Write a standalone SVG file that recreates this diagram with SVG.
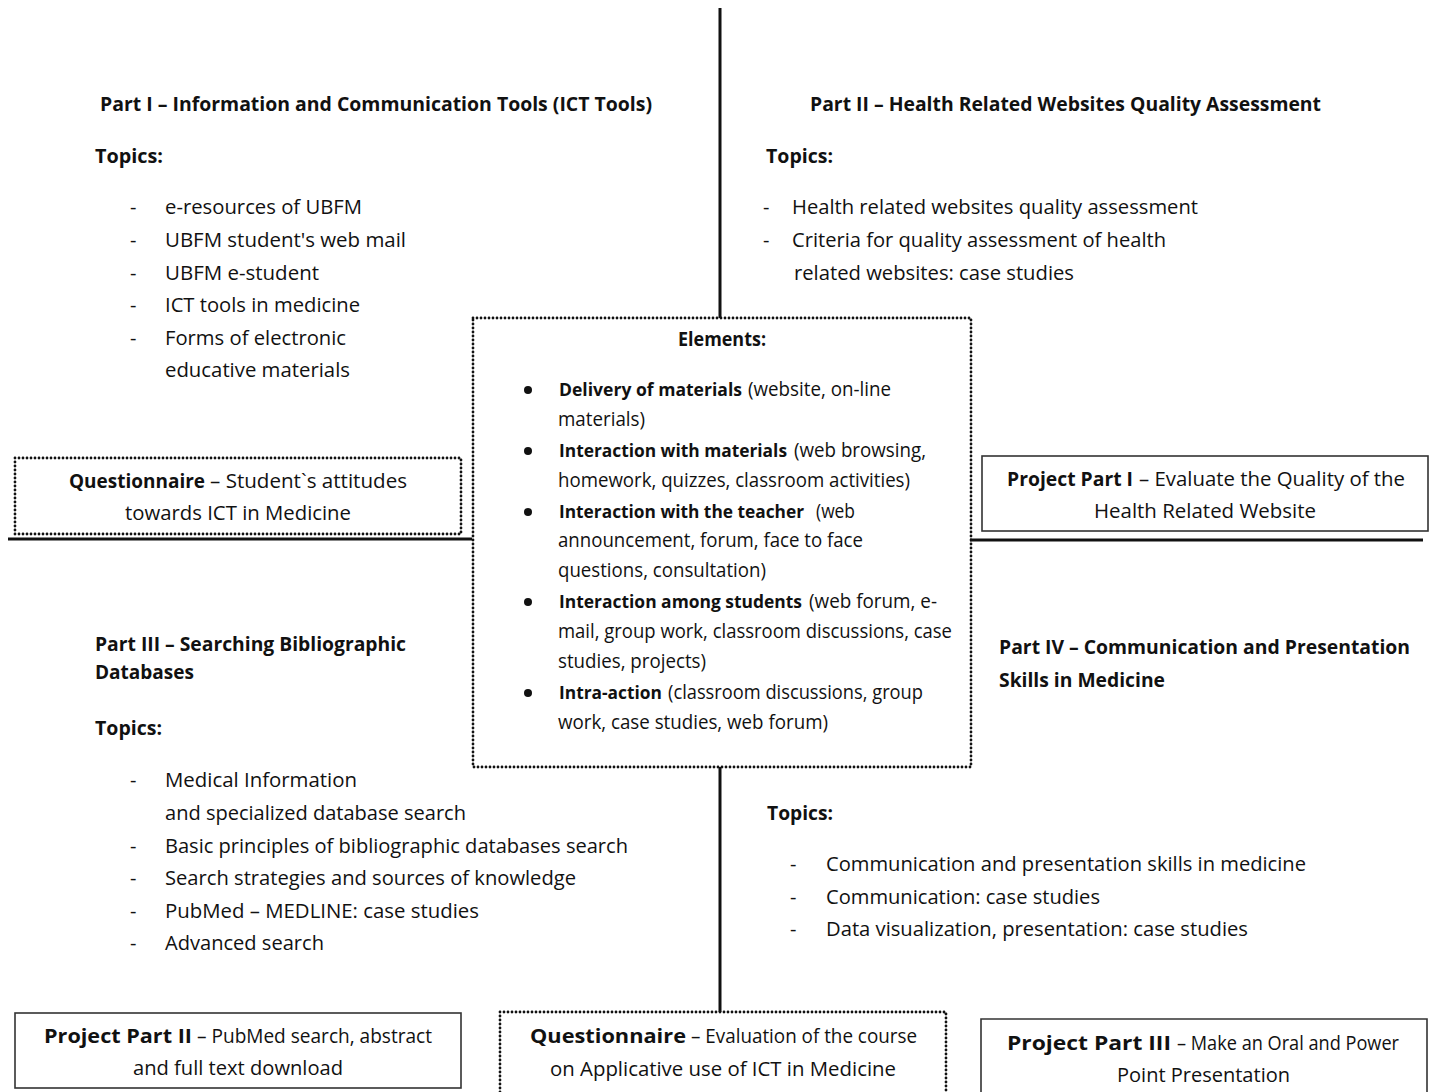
<svg xmlns="http://www.w3.org/2000/svg" width="1430" height="1092" viewBox="0 0 1430 1092">
<style>
text{font-family:"Open Sans","Noto Sans","Liberation Sans",sans-serif;font-size:20px;fill:#111;}
.b{font-weight:bold;}
.bi{font-weight:bold;font-size:18.5px;}
.dot{fill:none;stroke:#111;stroke-width:2.8;stroke-dasharray:0 4;stroke-linecap:round;}
.box{fill:none;stroke:#333;stroke-width:1.6;}
.ln{stroke:#111;stroke-width:3;fill:none;}
</style>
<rect width="1430" height="1092" fill="#fff"/>
<g id="connectors">
<line class="ln" x1="720" y1="8" x2="720" y2="318"/>
<line class="ln" x1="720" y1="767" x2="720" y2="1012"/>
<line class="ln" x1="8" y1="539" x2="472" y2="539"/>
<line class="ln" x1="970" y1="540" x2="1423" y2="540"/>
</g>
<g id="part1">
<text class="b" x="100" y="111" textLength="552" lengthAdjust="spacingAndGlyphs">Part I – Information and Communication Tools (ICT Tools)</text>
<text class="b" x="95" y="163" textLength="68" lengthAdjust="spacingAndGlyphs">Topics:</text>
<text x="130" y="214">-</text><text x="165" y="214" textLength="197" lengthAdjust="spacingAndGlyphs">e-resources of UBFM</text>
<text x="130" y="247">-</text><text x="165" y="247" textLength="241" lengthAdjust="spacingAndGlyphs">UBFM student's web mail</text>
<text x="130" y="280">-</text><text x="165" y="280" textLength="154" lengthAdjust="spacingAndGlyphs">UBFM e-student</text>
<text x="130" y="312">-</text><text x="165" y="312" textLength="195" lengthAdjust="spacingAndGlyphs">ICT tools in medicine</text>
<text x="130" y="345">-</text><text x="165" y="345" textLength="181" lengthAdjust="spacingAndGlyphs">Forms of electronic</text>
<text x="165" y="377" textLength="185" lengthAdjust="spacingAndGlyphs">educative materials</text>
</g>
<g id="part2">
<text class="b" x="810" y="111" textLength="511" lengthAdjust="spacingAndGlyphs">Part II – Health Related Websites Quality Assessment</text>
<text class="b" x="766" y="163" textLength="67" lengthAdjust="spacingAndGlyphs">Topics:</text>
<text x="763" y="214">-</text><text x="792" y="214" textLength="406" lengthAdjust="spacingAndGlyphs">Health related websites quality assessment</text>
<text x="763" y="247">-</text><text x="792" y="247" textLength="374" lengthAdjust="spacingAndGlyphs">Criteria for quality assessment of health</text>
<text x="794" y="280" textLength="280" lengthAdjust="spacingAndGlyphs">related websites: case studies</text>
</g>
<g id="elements">
<path class="dot" d="M473 318 H971 V767 H473 Z"/>
<text class="b" x="678" y="346" textLength="88" lengthAdjust="spacingAndGlyphs">Elements:</text>
<g fill="#111">
<circle cx="528" cy="390" r="4"/>
<circle cx="528" cy="451" r="4"/>
<circle cx="528" cy="512" r="4"/>
<circle cx="528" cy="602" r="4"/>
<circle cx="528" cy="693" r="4"/>
</g>
<text class="bi" x="559" y="396" textLength="183" lengthAdjust="spacingAndGlyphs">Delivery of materials</text>
<text x="748" y="396" textLength="143" lengthAdjust="spacingAndGlyphs">(website, on-line</text>
<text x="558" y="426" textLength="87" lengthAdjust="spacingAndGlyphs">materials)</text>
<text class="bi" x="559" y="457" textLength="228" lengthAdjust="spacingAndGlyphs">Interaction with materials</text>
<text x="794" y="457" textLength="132" lengthAdjust="spacingAndGlyphs">(web browsing,</text>
<text x="558" y="487" textLength="352" lengthAdjust="spacingAndGlyphs">homework, quizzes, classroom activities)</text>
<text class="bi" x="559" y="518" textLength="245" lengthAdjust="spacingAndGlyphs">Interaction with the teacher</text>
<text x="816" y="518" textLength="39" lengthAdjust="spacingAndGlyphs">(web</text>
<text x="558" y="547" textLength="305" lengthAdjust="spacingAndGlyphs">announcement, forum, face to face</text>
<text x="558" y="577" textLength="208" lengthAdjust="spacingAndGlyphs">questions, consultation)</text>
<text class="bi" x="559" y="608" textLength="243" lengthAdjust="spacingAndGlyphs">Interaction among students</text>
<text x="809" y="608" textLength="128" lengthAdjust="spacingAndGlyphs">(web forum, e-</text>
<text x="558" y="638" textLength="394" lengthAdjust="spacingAndGlyphs">mail, group work, classroom discussions, case</text>
<text x="558" y="668" textLength="148" lengthAdjust="spacingAndGlyphs">studies, projects)</text>
<text class="bi" x="559" y="699" textLength="103" lengthAdjust="spacingAndGlyphs">Intra-action</text>
<text x="668" y="699" textLength="255" lengthAdjust="spacingAndGlyphs">(classroom discussions, group</text>
<text x="558" y="729" textLength="270" lengthAdjust="spacingAndGlyphs">work, case studies, web forum)</text>
</g>
<g id="questionnaire1">
<path class="dot" d="M15 458 H461 V534 H15 Z"/>
<text class="b" x="69" y="488" textLength="136" lengthAdjust="spacingAndGlyphs">Questionnaire</text>
<text x="210" y="488" textLength="197" lengthAdjust="spacingAndGlyphs">– Student`s attitudes</text>
<text x="125" y="520" textLength="226" lengthAdjust="spacingAndGlyphs">towards ICT in Medicine</text>
</g>
<g id="project1">
<rect class="box" x="982" y="456" width="446" height="75"/>
<text class="b" x="1007" y="486" textLength="126" lengthAdjust="spacingAndGlyphs">Project Part I</text>
<text x="1139" y="486" textLength="266" lengthAdjust="spacingAndGlyphs">– Evaluate the Quality of the</text>
<text x="1094" y="518" textLength="222" lengthAdjust="spacingAndGlyphs">Health Related Website</text>
</g>
<g id="part3">
<text class="b" x="95" y="651" textLength="311" lengthAdjust="spacingAndGlyphs">Part III – Searching Bibliographic</text>
<text class="b" x="95" y="679" textLength="99" lengthAdjust="spacingAndGlyphs">Databases</text>
<text class="b" x="95" y="735" textLength="67" lengthAdjust="spacingAndGlyphs">Topics:</text>
<text x="130" y="787">-</text><text x="165" y="787" textLength="192" lengthAdjust="spacingAndGlyphs">Medical Information</text>
<text x="165" y="820" textLength="301" lengthAdjust="spacingAndGlyphs">and specialized database search</text>
<text x="130" y="853">-</text><text x="165" y="853" textLength="463" lengthAdjust="spacingAndGlyphs">Basic principles of bibliographic databases search</text>
<text x="130" y="885">-</text><text x="165" y="885" textLength="411" lengthAdjust="spacingAndGlyphs">Search strategies and sources of knowledge</text>
<text x="130" y="918">-</text><text x="165" y="918" textLength="314" lengthAdjust="spacingAndGlyphs">PubMed – MEDLINE: case studies</text>
<text x="130" y="950">-</text><text x="165" y="950" textLength="159" lengthAdjust="spacingAndGlyphs">Advanced search</text>
</g>
<g id="part4">
<text class="b" x="999" y="654" textLength="411" lengthAdjust="spacingAndGlyphs">Part IV – Communication and Presentation</text>
<text class="b" x="999" y="687" textLength="166" lengthAdjust="spacingAndGlyphs">Skills in Medicine</text>
<text class="b" x="767" y="820" textLength="66" lengthAdjust="spacingAndGlyphs">Topics:</text>
<text x="790" y="871">-</text><text x="826" y="871" textLength="480" lengthAdjust="spacingAndGlyphs">Communication and presentation skills in medicine</text>
<text x="790" y="904">-</text><text x="826" y="904" textLength="274" lengthAdjust="spacingAndGlyphs">Communication: case studies</text>
<text x="790" y="936">-</text><text x="826" y="936" textLength="422" lengthAdjust="spacingAndGlyphs">Data visualization, presentation: case studies</text>
</g>
<g id="project2">
<rect class="box" x="15" y="1013" width="446" height="75"/>
<text class="b" x="44" y="1043" textLength="148" lengthAdjust="spacingAndGlyphs">Project Part II</text>
<text x="197" y="1043" textLength="235" lengthAdjust="spacingAndGlyphs">– PubMed search, abstract</text>
<text x="133" y="1075" textLength="210" lengthAdjust="spacingAndGlyphs">and full text download</text>
</g>
<g id="questionnaire2">
<path class="dot" d="M500 1096 V1012 H946 V1096"/>
<text class="b" x="530" y="1043" textLength="156" lengthAdjust="spacingAndGlyphs">Questionnaire</text>
<text x="691" y="1043" textLength="226" lengthAdjust="spacingAndGlyphs">– Evaluation of the course</text>
<text x="550" y="1076" textLength="346" lengthAdjust="spacingAndGlyphs">on Applicative use of ICT in Medicine</text>
</g>
<g id="project3">
<path class="box" d="M981 1096 V1019 H1427 V1096"/>
<text class="b" x="1007" y="1050" textLength="164" lengthAdjust="spacingAndGlyphs">Project Part III</text>
<text x="1177" y="1050" textLength="222" lengthAdjust="spacingAndGlyphs">– Make an Oral and Power</text>
<text x="1117" y="1082" textLength="173" lengthAdjust="spacingAndGlyphs">Point Presentation</text>
</g>
</svg>
